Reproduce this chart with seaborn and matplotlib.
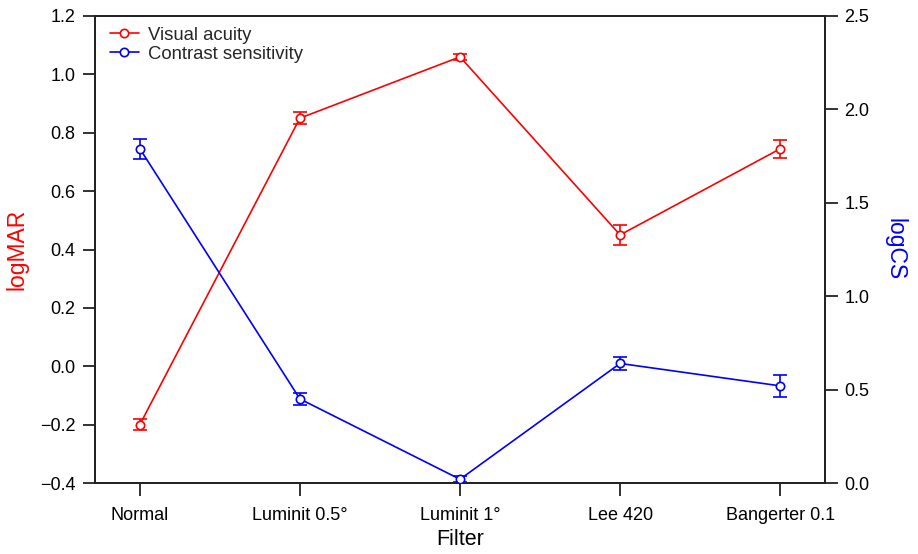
import matplotlib
matplotlib.use("Agg")
import matplotlib.pyplot as plt
from matplotlib.lines import Line2D
import seaborn as sns
import pandas as pd

filters = ["Normal", "Luminit 0.5°", "Luminit 1°", "Lee 420", "Bangerter 0.1"]
visual_acuity = [-0.20, 0.85, 1.06, 0.45, 0.745]
visual_acuity_err = [0.02, 0.02, 0.01, 0.033, 0.031]
contrast_sens = [1.79, 0.45, 0.02, 0.64, 0.52]
contrast_sens_err = [0.054, 0.032, 0.016, 0.036, 0.06]

sns.set_theme(style="ticks")
plt.rcParams["font.family"] = ["Liberation Sans", "DejaVu Sans"]

RED = "#ff0000"
BLUE = "#0000ff"
FRAME = "#222222"
MS = 6

fig = plt.figure(figsize=(9.18, 5.54), dpi=100)
ax = fig.add_axes([95 / 918, 71 / 554, 730 / 918, 467 / 554])
ax2 = ax.twinx()

df = pd.DataFrame({"Filter": filters, "va": visual_acuity, "cs": contrast_sens})

ax.errorbar(filters, visual_acuity, yerr=visual_acuity_err, fmt="none",
            ecolor=RED, elinewidth=1.2, capsize=5, capthick=1.2, zorder=2)
sns.lineplot(data=df, x="Filter", y="va", ax=ax, color=RED, linewidth=1.2,
             marker="o", markersize=MS, markerfacecolor="white",
             markeredgecolor=RED, markeredgewidth=1.2, zorder=3, sort=False)

ax2.errorbar(filters, contrast_sens, yerr=contrast_sens_err, fmt="none",
             ecolor=BLUE, elinewidth=1.2, capsize=5, capthick=1.2, zorder=2)
sns.lineplot(data=df, x="Filter", y="cs", ax=ax2, color=BLUE, linewidth=1.2,
             marker="o", markersize=MS, markerfacecolor="white",
             markeredgecolor=BLUE, markeredgewidth=1.2, zorder=3, sort=False)

ax.set_xlim(-0.28, 4.28)
ax.set_ylim(-0.4, 1.2)
ax2.set_ylim(0.0, 2.5)
ax.set_yticks([-0.4, -0.2, 0.0, 0.2, 0.4, 0.6, 0.8, 1.0, 1.2])
ax2.set_yticks([0.0, 0.5, 1.0, 1.5, 2.0, 2.5])
ax.set_yticklabels([f"{v:.1f}".replace("-", "\u2212") for v in ax.get_yticks()])
ax2.set_yticklabels([f"{v:.1f}" for v in ax2.get_yticks()])

ax.set_xlabel("Filter", fontsize=15.5, color="black", labelpad=4)
ax.set_ylabel("logMAR", fontsize=16.5, color=RED, labelpad=8)
ax2.set_ylabel("logCS", fontsize=16.5, color=BLUE, labelpad=10, rotation=270,
               va="bottom")

for a in (ax, ax2):
    for s in a.spines.values():
        s.set_visible(True)
        s.set_color(FRAME)
        s.set_linewidth(1.3)
    a.tick_params(axis="both", direction="out", length=9, width=1.3,
                  color=FRAME, labelsize=13, labelcolor="black", pad=5)
ax.tick_params(axis="x", pad=8)
ax2.tick_params(axis="x", length=0)
ax.tick_params(axis="x", top=False)

handles = [
    Line2D([], [], color=RED, linewidth=1.2, marker="o", markersize=MS,
           markerfacecolor="white", markeredgecolor=RED, markeredgewidth=1.2),
    Line2D([], [], color=BLUE, linewidth=1.2, marker="o", markersize=MS,
           markerfacecolor="white", markeredgecolor=BLUE, markeredgewidth=1.2),
]
leg = ax2.legend(handles, ["Visual acuity", "Contrast sensitivity"],
                 loc="upper left", frameon=False, fontsize=13.3,
                 handlelength=1.6, handletextpad=0.5, labelspacing=0.1,
                 borderaxespad=0.0, bbox_to_anchor=(0.01, 0.993))

fig.savefig("out.png", dpi=100)
